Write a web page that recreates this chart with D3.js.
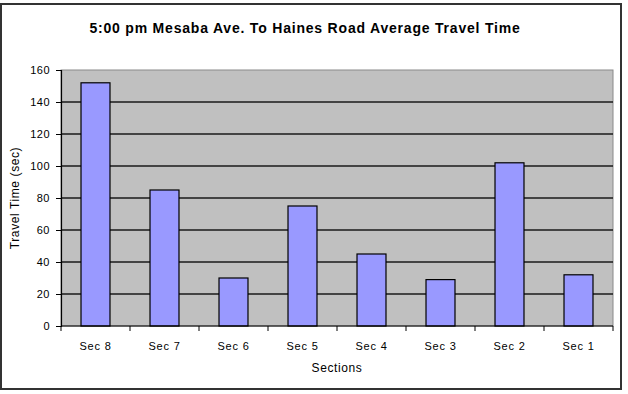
<!DOCTYPE html>
<html>
<head>
<meta charset="utf-8">
<script src="https://cdn.jsdelivr.net/npm/d3@7"></script>
<style>
  body { margin: 0; background: #fff; }
  text { font-family: Arial, "Liberation Sans", sans-serif; }
</style>
</head>
<body>
<div id="chart"></div>
<script>
const sections = ["Sec 8", "Sec 7", "Sec 6", "Sec 5", "Sec 4", "Sec 3", "Sec 2", "Sec 1"];
const travelTimes = [152, 85, 30, 75, 45, 29, 102, 32];
const yTicks = [0, 20, 40, 60, 80, 100, 120, 140, 160];

const W = 628, H = 394;
const margin = { top: 70, right: 15, bottom: 68, left: 61 },
  width = 613 - margin.left,
  height = 326 - margin.top;

const svg = d3.select("#chart").append("svg")
  .attr("width", W)
  .attr("height", H);

// outer frame
svg.append("rect")
  .attr("x", 1).attr("y", 4)
  .attr("width", 620).attr("height", 385)
  .attr("fill", "#fff")
  .attr("stroke", "#333")
  .attr("stroke-width", 2);

const g = svg.append("g")
  .attr("transform", "translate(" + margin.left + "," + margin.top + ")");

const x = d3.scaleBand().domain(sections).range([0, width]).paddingInner(0.58).paddingOuter(0.29);
const y = d3.scaleLinear().domain([0, 160]).range([height, 0]);

// plot area
g.append("rect")
  .attr("width", width).attr("height", height)
  .attr("fill", "#c0c0c0")
  .attr("stroke", "#8a8a8a")
  .attr("stroke-width", 1);

// gridlines
g.selectAll(".grid")
  .data(yTicks.filter(d => d > 0 && d < 160))
  .enter().append("line")
  .attr("x1", 0).attr("x2", width)
  .attr("y1", d => y(d)).attr("y2", d => y(d))
  .attr("stroke", "#1a1a1a")
  .attr("stroke-width", 1.6);

// bars
g.selectAll(".bar")
  .data(travelTimes)
  .enter().append("rect")
  .attr("x", (d, i) => x(sections[i]))
  .attr("width", x.bandwidth())
  .attr("y", d => y(d))
  .attr("height", d => height - y(d))
  .attr("fill", "#9999ff")
  .attr("stroke", "#000")
  .attr("stroke-width", 1.2);

// y axis
const yAxis = g.append("g")
  .call(d3.axisLeft(y).tickValues(yTicks).tickSize(5).tickPadding(6));
yAxis.select(".domain").attr("stroke", "#000").attr("stroke-width", 1.2);
yAxis.selectAll("text").style("font-size", "11px").attr("fill", "#000").attr("letter-spacing", "0.5px");

// x axis with ticks at category boundaries
const xAxisG = g.append("g").attr("transform", "translate(0," + height + ")");
xAxisG.append("line")
  .attr("x1", 0).attr("x2", width)
  .attr("stroke", "#000").attr("stroke-width", 1.2);
const bounds = d3.range(sections.length + 1).map(i => i * width / sections.length);
xAxisG.selectAll(".xtick")
  .data(bounds)
  .enter().append("line")
  .attr("x1", d => d).attr("x2", d => d)
  .attr("y1", 0).attr("y2", 5)
  .attr("stroke", "#000");
xAxisG.selectAll(".xlabel")
  .data(sections)
  .enter().append("text")
  .attr("x", d => x(d) + x.bandwidth() / 2)
  .attr("y", 24)
  .attr("text-anchor", "middle")
  .attr("letter-spacing", "0.8px")
  .style("font-size", "11px")
  .text(d => d);

// title
svg.append("text")
  .attr("x", 305)
  .attr("y", 33)
  .attr("text-anchor", "middle")
  .style("font-size", "14px")
  .style("font-weight", "bold")
  .attr("letter-spacing", "0.8px")
  .text("5:00 pm Mesaba Ave. To Haines Road Average Travel Time");

// axis titles
svg.append("text")
  .attr("x", margin.left + width / 2)
  .attr("y", 372)
  .attr("text-anchor", "middle")
  .attr("letter-spacing", "0.6px")
  .style("font-size", "12px")
  .text("Sections");

svg.append("text")
  .attr("transform", "translate(19," + (margin.top + height / 2) + ") rotate(-90)")
  .attr("text-anchor", "middle")
  .attr("letter-spacing", "0.6px")
  .style("font-size", "12px")
  .text("Travel Time (sec)");
</script>
</body>
</html>
